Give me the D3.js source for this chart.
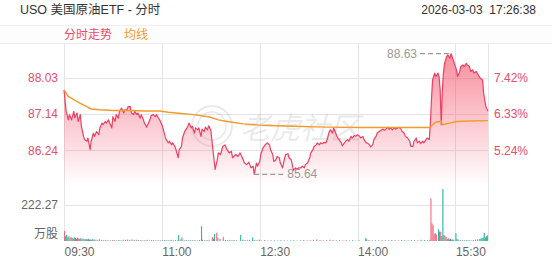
<!DOCTYPE html>
<html>
<head>
<meta charset="utf-8">
<script src="https://cdn.jsdelivr.net/npm/d3@7"></script>
<style>
  body { margin: 0; background: #fff; }
  svg { display: block; font-family: Arial, "Liberation Sans", "Noto Sans CJK SC", sans-serif; }
</style>
</head>
<body>
<svg id="chart" width="552" height="265"></svg>
<script>
// ---- data ----
const title = "USO 美国原油ETF - 分时";
const stamp = "2026-03-03  17:26:38";
const preClose = 81.95;

// time axis, minutes after 09:30
const timeTicks = [0, 90, 180, 270, 360, 390];
const timeLabels = ["09:30", "11:00", "12:30", "14:00", "15:30", ""];

const priceTicks = [88.03, 87.14, 86.24];
const pctLabels = ["7.42%", "6.33%", "5.24%"];
const volTick = 222.27;

// [minute, price]
const pricePoints = [
  [0,87.73],[2,87.20],[4,86.99],[5,87.12],[7,86.99],[9,87.20],[10,87.04],[12,87.16],[13,86.95],[15,87.12],
  [16,86.83],[18,86.58],[19,86.50],[21,86.46],[22,86.54],[24,86.25],[25,86.46],[27,86.66],[28,86.58],[30,86.70],
  [32,86.62],[33,86.79],[35,86.91],[36,86.87],[38,86.95],[39,86.91],[41,86.99],[42,86.91],[44,86.79],[45,87.07],
  [47,86.95],[48,87.12],[50,87.03],[51,87.20],[53,87.28],[55,87.16],[56,87.24],[58,87.24],[59,87.32],[61,87.32],
  [62,87.16],[64,87.12],[65,87.20],[67,87.12],[68,87.16],[70,87.03],[71,87.12],[73,86.99],[74,86.91],[76,86.81],
  [77,86.87],[79,86.99],[80,87.09],[82,87.12],[84,87.07],[85,87.12],[87,87.03],[88,86.99],[90,86.87],[91,86.79],
  [93,86.58],[94,86.50],[96,86.42],[97,86.46],[99,86.37],[100,86.42],[102,86.33],[103,86.25],[105,86.05],[106,86.25],
  [108,86.33],[109,86.54],[111,86.70],[112,86.74],[114,86.83],[115,86.91],[117,86.79],[118,86.83],[120,86.66],[121,86.79],
  [123,86.74],[124,86.79],[126,86.58],[127,86.76],[129,86.70],[130,86.81],[132,86.74],[133,86.84],[135,86.74],[137,86.25],
  [138,86.00],[139,85.76],[141,86.00],[142,86.17],[144,86.13],[146,86.33],[148,86.37],[150,86.25],[152,86.17],[154,86.21],
  [155,86.05],[158,86.13],[160,86.08],[162,86.17],[164,86.05],[166,85.92],[168,85.88],[170,85.94],[172,85.80],[174,85.84],
  [175,85.64],[177,85.92],[178,85.84],[180,85.96],[181,86.13],[183,86.29],[185,86.37],[187,86.42],[189,86.37],[190,86.25],
  [192,86.13],[193,85.96],[195,86.00],[196,86.08],[198,86.05],[199,85.92],[201,85.80],[203,86.05],[204,86.13],[206,86.15],
  [207,86.05],[209,86.00],[210,85.88],[211,85.74],[213,85.80],[214,85.76],[216,85.80],[218,85.80],[219,85.84],[221,85.80],
  [222,85.88],[224,85.92],[226,86.05],[227,86.17],[229,86.25],[230,86.33],[232,86.37],[233,86.42],[235,86.37],[236,86.42],
  [238,86.40],[239,86.43],[241,86.42],[242,86.50],[244,86.70],[245,86.74],[247,86.66],[248,86.79],[250,86.66],[251,86.58],
  [253,86.50],[255,86.42],[256,86.35],[258,86.42],[259,86.46],[261,86.50],[262,86.46],[264,86.58],[265,86.54],[267,86.60],
  [268,86.58],[270,86.62],[272,86.58],[273,86.54],[275,86.58],[276,86.50],[278,86.42],[279,86.42],[281,86.37],[282,86.32],
  [284,86.37],[285,86.50],[287,86.58],[288,86.66],[290,86.70],[292,86.74],[293,86.76],[295,86.73],[296,86.76],[298,86.81],
  [299,86.76],[301,86.79],[302,86.74],[304,86.79],[305,86.76],[307,86.79],[308,86.81],[310,86.76],[311,86.70],[313,86.66],
  [314,86.58],[316,86.54],[318,86.46],[319,86.33],[321,86.33],[322,86.46],[324,86.54],[325,86.42],[327,86.46],[328,86.40],
  [330,86.46],[331,86.42],[333,86.50],[334,86.54],[336,86.50],[337,86.91],[338,87.49],[339,87.98],[341,88.15],[342,88.06],
  [344,88.15],[345,88.06],[346,87.73],[347,86.87],[348,87.73],[349,88.15],[350,88.39],[352,88.56],[353,88.60],[355,88.52],
  [356,88.63],[358,88.48],[359,88.39],[361,88.23],[362,88.06],[364,88.19],[365,88.31],[367,88.35],[368,88.31],[370,88.39],
  [371,88.35],[373,88.31],[374,88.19],[376,88.23],[377,88.15],[379,88.19],[380,88.15],[382,88.06],[383,88.02],[385,87.98],
  [386,87.65],[388,87.32],[390,87.20]
];

// [minute, average price]
const avgPoints = [
  [0,87.73],[4,87.57],[9,87.49],[15,87.40],[21,87.32],[25,87.26],[33,87.24],[45,87.22],[58,87.22],[76,87.21],
  [88,87.21],[96,87.18],[103,87.16],[119,87.12],[134,87.06],[142,86.99],[150,86.95],[165,86.89],[180,86.86],[189,86.85],
  [211,86.83],[242,86.81],[272,86.80],[337,86.80],[339,86.87],[342,86.93],[347,86.96],[348,86.87],[355,86.91],[361,86.95],
  [373,86.96],[390,86.97]
];

// [minute, volume in 万股, 1 = up / 0 = down]
const volumeBars = [
  [0,62,1],[1,30,0],[2,38,0],[3,22,1],[4,28,0],[5,18,1],[6,25,1],[7,20,0],[8,15,1],[9,22,0],
  [10,18,0],[11,14,1],[12,20,0],[13,16,1],[14,12,0],[15,18,0],[16,10,1],[17,14,0],[18,12,1],[19,9,0],
  [20,12,0],[21,10,1],[22,14,0],[23,8,0],[24,10,1],[25,8,0],[26,12,0],[27,7,1],[28,9,0],[30,8,1],
  [32,10,0],[34,6,1],[36,5,0],[38,7,1],[40,5,1],[42,4,0],[44,6,1],[46,5,1],[48,4,0],[50,6,0],
  [52,5,1],[54,8,1],[56,6,1],[58,9,1],[60,7,1],[62,10,1],[64,6,0],[66,8,1],[68,5,0],[70,6,1],
  [72,4,0],[74,5,0],[76,7,1],[78,4,0],[80,5,0],[82,6,1],[84,4,0],[86,5,1],[88,4,0],[90,5,0],
  [92,6,1],[94,4,0],[96,5,0],[98,7,0],[100,5,1],[102,6,1],[104,4,0],[105,37,0],[107,10,0],[108,22,1],
  [110,5,0],[112,6,1],[114,4,0],[116,5,0],[118,6,1],[120,5,0],[122,4,1],[124,6,0],[126,91,0],[127,8,0],
  [129,5,1],[131,6,0],[133,8,1],[136,25,1],[137,14,0],[138,43,0],[140,51,1],[141,20,1],[143,12,0],[146,25,1],
  [148,6,0],[150,5,0],[152,7,1],[154,5,0],[156,6,0],[158,4,1],[162,37,0],[164,8,0],[166,6,1],[168,5,0],
  [170,7,0],[173,22,0],[175,6,0],[177,5,1],[179,8,0],[181,4,1],[184,6,1],[187,3,0],[190,5,1],[193,4,0],
  [196,3,1],[199,5,0],[202,4,0],[205,3,1],[208,4,0],[211,5,0],[214,3,1],[217,4,0],[220,6,1],[223,4,1],
  [226,5,1],[229,8,1],[232,10,1],[235,6,1],[238,4,0],[241,5,1],[244,8,1],[247,6,1],[250,4,0],[253,5,0],
  [256,3,1],[259,6,1],[262,4,0],[265,5,0],[268,3,1],[271,4,0],[277,18,0],[278,10,0],[280,6,1],[283,4,0],
  [286,5,1],[289,4,0],[292,6,1],[295,5,1],[298,4,1],[301,6,1],[304,5,0],[307,4,1],[310,6,0],[313,5,0],
  [316,4,1],[319,6,0],[322,5,0],[325,4,1],[328,7,0],[331,6,0],[334,5,0],[336,8,1],[337,264,1],[338,109,1],
  [339,96,1],[340,45,1],[341,48,1],[342,40,1],[344,72,0],[345,58,0],[346,57,1],[347,30,0],[348,321,0],[349,37,0],
  [350,30,1],[351,25,1],[352,12,0],[353,18,1],[354,10,0],[355,14,0],[356,8,1],[357,10,0],[358,6,0],[360,48,0],
  [361,12,0],[362,9,0],[364,6,0],[366,5,1],[368,4,0],[370,6,0],[372,5,0],[374,4,1],[376,6,0],[378,8,0],
  [380,10,0],[382,12,0],[383,15,0],[384,18,0],[385,20,0],[386,51,0],[387,22,0],[388,30,0],[389,35,1]
];

// ---- layout ----
const left = 64, right = 488;
const priceTop = 42, priceBottom = 186;
const volTop = 187, volBottom = 241;

const red = "#ee3f62", upRed = "#f36a80", downGreen = "#2db3a0", orange = "#f39a2b";

const svg = d3.select("#chart");

const x = d3.scaleLinear().domain([0, 390]).range([left, right]);
const y = d3.scaleLinear().domain([85.35, 88.92]).range([priceBottom, priceTop]);
const yVol = d3.scaleLinear().domain([0, 333.4]).range([volBottom, volTop]);

// header
svg.append("text").attr("x", 20).attr("y", 14).attr("font-size", 12.5).attr("fill", "#333").text(title);
svg.append("text").attr("x", 536).attr("y", 14).attr("text-anchor", "end").attr("font-size", 12)
  .attr("fill", "#333").style("white-space", "pre").text(stamp);

// legend band
svg.append("rect").attr("x", 0).attr("y", 25).attr("width", 552).attr("height", 18).attr("fill", "#fdfdfd");
svg.append("line").attr("x1", 0).attr("x2", 552).attr("y1", 25.5).attr("y2", 25.5).attr("stroke", "#f0f0f0");
svg.append("line").attr("x1", 0).attr("x2", 552).attr("y1", 43.5).attr("y2", 43.5).attr("stroke", "#eeeeee");
svg.append("text").attr("x", 64).attr("y", 38.5).attr("font-size", 12).attr("fill", "#ea4a6c").text("分时走势");
svg.append("text").attr("x", 124).attr("y", 38.5).attr("font-size", 12).attr("fill", orange).text("均线");

// grid
const grid = svg.append("g").attr("stroke", "#e4e4e4").attr("stroke-width", 1);
timeTicks.forEach(t => {
  const gx = Math.round(x(t)) + 0.5;
  grid.append("line").attr("x1", gx).attr("x2", gx).attr("y1", 44).attr("y2", volBottom);
});
priceTicks.forEach(p => {
  const gy = Math.round(y(p)) + 0.5;
  grid.append("line").attr("x1", left).attr("x2", right).attr("y1", gy).attr("y2", gy);
});
grid.append("line").attr("x1", left).attr("x2", right)
  .attr("y1", Math.round(yVol(volTick)) + 0.5).attr("y2", Math.round(yVol(volTick)) + 0.5);

// watermark
const wm = svg.append("g").attr("opacity", 0.08);
wm.append("circle").attr("cx", 212).attr("cy", 126).attr("r", 20).attr("fill", "none").attr("stroke", "#000").attr("stroke-width", 2);
wm.append("circle").attr("cx", 212).attr("cy", 126).attr("r", 14).attr("fill", "none").attr("stroke", "#000").attr("stroke-width", 1.5);
wm.append("text").attr("x", 240).attr("y", 139).attr("font-size", 30).attr("font-style", "italic")
  .attr("fill", "#000").attr("font-family", "Noto Sans CJK SC").text("老虎社区");

// gradient fill under price
const defs = svg.append("defs");
const grad = defs.append("linearGradient").attr("id", "fillGrad")
  .attr("gradientUnits", "userSpaceOnUse").attr("x1", 0).attr("x2", 0).attr("y1", priceTop).attr("y2", priceBottom);
grad.append("stop").attr("offset", "0%").attr("stop-color", "#f3465f").attr("stop-opacity", 0.66);
grad.append("stop").attr("offset", "100%").attr("stop-color", "#f3465f").attr("stop-opacity", 0.0);

const area = d3.area().x(d => x(d[0])).y0(priceBottom).y1(d => y(d[1]));
svg.append("path").datum(pricePoints).attr("d", area).attr("fill", "url(#fillGrad)");

const line = d3.line().x(d => x(d[0])).y(d => y(d[1]));
svg.append("path").datum(pricePoints).attr("d", line).attr("fill", "none")
  .attr("stroke", red).attr("stroke-width", 1.2).attr("stroke-linejoin", "round");
svg.append("path").datum(avgPoints).attr("d", line).attr("fill", "none")
  .attr("stroke", orange).attr("stroke-width", 1.4);

// high / low markers
const hi = pricePoints.reduce((a, b) => (b[1] > a[1] ? b : a));
const lo = pricePoints.reduce((a, b) => (b[1] < a[1] ? b : a));
svg.append("line").attr("x1", x(hi[0]) - 31).attr("x2", x(hi[0])).attr("y1", y(hi[1])).attr("y2", y(hi[1]))
  .attr("stroke", "#999").attr("stroke-width", 1.3).attr("stroke-dasharray", "5,3");
svg.append("text").attr("x", x(hi[0]) - 34).attr("y", y(hi[1]) + 4).attr("text-anchor", "end")
  .attr("font-size", 12).attr("fill", "#999").text(hi[1].toFixed(2));
svg.append("line").attr("x1", x(lo[0])).attr("x2", x(lo[0]) + 29).attr("y1", y(lo[1])).attr("y2", y(lo[1]))
  .attr("stroke", "#999").attr("stroke-width", 1.3).attr("stroke-dasharray", "5,3");
svg.append("text").attr("x", x(lo[0]) + 33).attr("y", y(lo[1]) + 4)
  .attr("font-size", 12).attr("fill", "#999").text(lo[1].toFixed(2));

// volume bars
svg.append("g").selectAll("rect").data(volumeBars).join("rect")
  .attr("x", d => x(d[0]))
  .attr("width", 1.1)
  .attr("y", d => yVol(d[1]))
  .attr("height", d => volBottom - yVol(d[1]))
  .attr("fill", d => d[2] ? upRed : downGreen);

// axis labels
priceTicks.forEach((p, i) => {
  svg.append("text").attr("x", 58).attr("y", y(p) + 4.5).attr("text-anchor", "end")
    .attr("font-size", 12).attr("fill", "#e64d6b").text(p.toFixed(2));
  svg.append("text").attr("x", 494).attr("y", y(p) + 4.5)
    .attr("font-size", 12).attr("fill", "#e64d6b").text(pctLabels[i]);
});
svg.append("text").attr("x", 58).attr("y", yVol(volTick) + 4.5).attr("text-anchor", "end")
  .attr("font-size", 12).attr("fill", "#666").text(volTick.toFixed(2));
svg.append("text").attr("x", 58).attr("y", 238).attr("text-anchor", "end")
  .attr("font-size", 12).attr("fill", "#666").text("万股");

const xAxis = d3.axisBottom(x).tickValues(timeTicks).tickFormat((d, i) => timeLabels[i]).tickSize(0);
const gx = svg.append("g").attr("transform", `translate(0,${volBottom})`).call(xAxis);
gx.select(".domain").remove();
gx.selectAll("text").attr("text-anchor", "start").attr("dy", 0).attr("y", 15)
  .attr("font-size", 12).attr("fill", "#666").attr("font-family", null);
</script>
</body>
</html>
